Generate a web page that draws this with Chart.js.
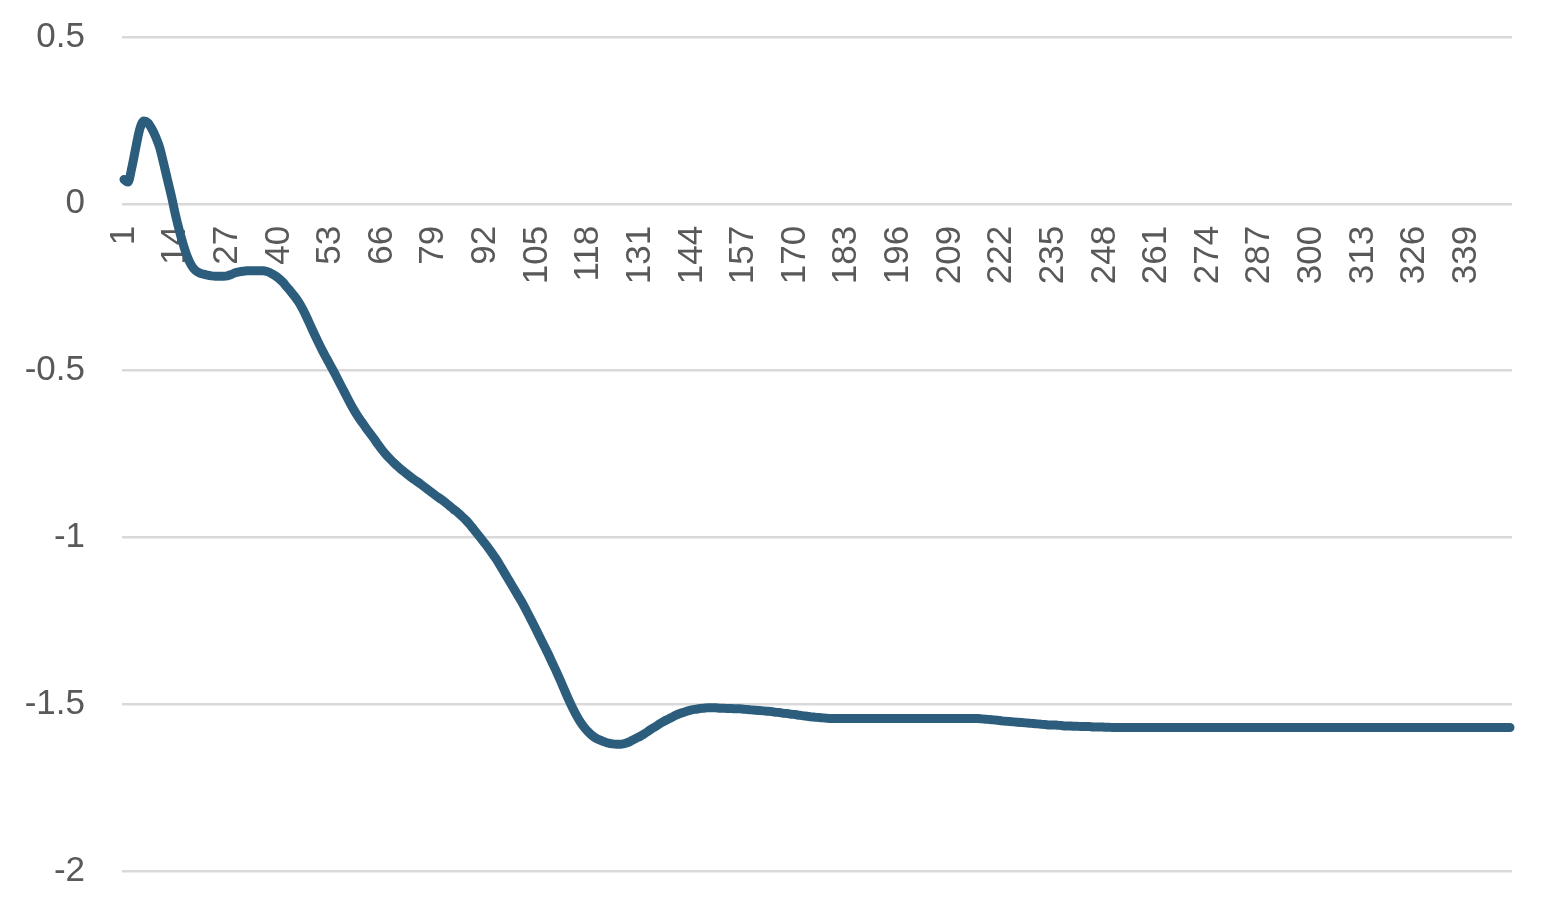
<!DOCTYPE html>
<html>
<head>
<meta charset="utf-8">
<script src="https://cdn.jsdelivr.net/npm/chart.js@4"></script>
<style>
  html, body { margin: 0; padding: 0; background: #ffffff; }
  #wrap { position: relative; width: 1558px; height: 912px; }
</style>
</head>
<body>
<div id="wrap"><canvas id="chart"></canvas></div>
<script>
// values, one per category (1..350)
const seriesValues = [
  0.073, 0.065, 0.11, 0.17, 0.225, 0.248, 0.243, 0.225, 0.2, 0.168,
  0.12, 0.07, 0.02, -0.035, -0.083, -0.125, -0.16, -0.185, -0.2, -0.207,
  -0.211, -0.214, -0.216, -0.217, -0.217, -0.217, -0.216, -0.212, -0.207, -0.204,
  -0.202, -0.201, -0.201, -0.201, -0.201, -0.201, -0.203, -0.208, -0.215, -0.224,
  -0.235, -0.249, -0.263, -0.278, -0.295, -0.316, -0.34, -0.366, -0.392, -0.417,
  -0.441, -0.463, -0.485, -0.507, -0.53, -0.553, -0.576, -0.599, -0.62, -0.639,
  -0.656, -0.673, -0.689, -0.705, -0.722, -0.738, -0.752, -0.765, -0.777, -0.788,
  -0.798, -0.808, -0.817, -0.826, -0.834, -0.843, -0.852, -0.861, -0.87, -0.879,
  -0.887, -0.896, -0.906, -0.916, -0.925, -0.936, -0.947, -0.96, -0.975, -0.99,
  -1.005, -1.02, -1.036, -1.053, -1.07, -1.09, -1.11, -1.13, -1.15, -1.17,
  -1.19, -1.212, -1.235, -1.258, -1.282, -1.306, -1.33, -1.354, -1.38, -1.405,
  -1.432, -1.46, -1.487, -1.512, -1.535, -1.555, -1.571, -1.584, -1.595, -1.603,
  -1.608, -1.613, -1.617, -1.619, -1.62, -1.62, -1.618, -1.614, -1.608, -1.602,
  -1.596, -1.589, -1.581, -1.573, -1.566, -1.558, -1.551, -1.545, -1.539, -1.533,
  -1.528, -1.524, -1.52, -1.517, -1.515, -1.513, -1.512, -1.511, -1.511, -1.511,
  -1.512, -1.512, -1.513, -1.513, -1.514, -1.514, -1.515, -1.516, -1.517, -1.518,
  -1.519, -1.52, -1.521, -1.522, -1.524, -1.525, -1.527, -1.528, -1.53, -1.531,
  -1.533, -1.535, -1.536, -1.538, -1.539, -1.54, -1.541, -1.542, -1.543, -1.543,
  -1.543, -1.543, -1.543, -1.543, -1.543, -1.543, -1.543, -1.543, -1.543, -1.543,
  -1.543, -1.543, -1.543, -1.543, -1.543, -1.543, -1.543, -1.543, -1.543, -1.543,
  -1.543, -1.543, -1.543, -1.543, -1.543, -1.543, -1.543, -1.543, -1.543, -1.543,
  -1.543, -1.543, -1.543, -1.543, -1.543, -1.543, -1.544, -1.545, -1.546, -1.547,
  -1.548, -1.55, -1.551, -1.552, -1.553, -1.554, -1.555, -1.556, -1.557, -1.558,
  -1.559, -1.56, -1.561, -1.562, -1.562, -1.563, -1.564, -1.565, -1.565, -1.566,
  -1.566, -1.567, -1.567, -1.567, -1.568, -1.568, -1.568, -1.569, -1.569, -1.57,
  -1.57, -1.57, -1.57, -1.57, -1.57, -1.57, -1.57, -1.57, -1.57, -1.57,
  -1.57, -1.57, -1.57, -1.57, -1.57, -1.57, -1.57, -1.57, -1.57, -1.57,
  -1.57, -1.57, -1.57, -1.57, -1.57, -1.57, -1.57, -1.57, -1.57, -1.57,
  -1.57, -1.57, -1.57, -1.57, -1.57, -1.57, -1.57, -1.57, -1.57, -1.57,
  -1.57, -1.57, -1.57, -1.57, -1.57, -1.57, -1.57, -1.57, -1.57, -1.57,
  -1.57, -1.57, -1.57, -1.57, -1.57, -1.57, -1.57, -1.57, -1.57, -1.57,
  -1.57, -1.57, -1.57, -1.57, -1.57, -1.57, -1.57, -1.57, -1.57, -1.57,
  -1.57, -1.57, -1.57, -1.57, -1.57, -1.57, -1.57, -1.57, -1.57, -1.57,
  -1.57, -1.57, -1.57, -1.57, -1.57, -1.57, -1.57, -1.57, -1.57, -1.57,
  -1.57, -1.57, -1.57, -1.57, -1.57, -1.57, -1.57, -1.57, -1.57, -1.57
];

// categories are just the row numbers 1..350
const categories = seriesValues.map((v, i) => String(i + 1));

// axis settings
const xLabelEvery = 13;
const yMin = -2;
const yMax = 0.5;
const yStep = 0.5;

const textColor = "#595959";
const gridColor = "#d9d9d9";
const lineColor = "#2c5d7d";
const fontFamily = "'Liberation Sans', Arial, sans-serif";

new Chart(document.getElementById("chart"), {
  type: "line",
  data: {
    labels: categories,
    datasets: [
      {
        data: seriesValues,
        borderColor: lineColor,
        borderWidth: 9,
        borderCapStyle: "round",
        borderJoinStyle: "round",
        pointRadius: 0,
        cubicInterpolationMode: "monotone",
        fill: false
      }
    ]
  },
  options: {
    responsive: true,
    maintainAspectRatio: false,
    animation: false,
    layout: {
      padding: { top: 37, right: 46, bottom: 41, left: 0 }
    },
    plugins: {
      legend: { display: false },
      tooltip: { enabled: false }
    },
    scales: {
      x: {
        type: "category",
        offset: true,
        position: { y: 0 },
        grid: { display: false, drawTicks: false },
        border: { display: false },
        ticks: {
          autoSkip: false,
          maxRotation: 90,
          minRotation: 90,
          padding: 22,
          color: textColor,
          font: { family: fontFamily, size: 35 },
          callback: function (value, index) {
            return index % xLabelEvery === 0 ? this.getLabelForValue(value) : null;
          }
        }
      },
      y: {
        min: yMin,
        max: yMax,
        afterFit: scale => { scale.width = 122; },
        // invisible tick marks keep the labels away from the plot
        grid: {
          color: gridColor,
          lineWidth: 2.5,
          drawTicks: true,
          tickLength: 37,
          tickColor: "rgba(0,0,0,0)"
        },
        border: { display: false },
        ticks: {
          stepSize: yStep,
          padding: 0,
          color: textColor,
          font: { family: fontFamily, size: 35 },
          callback: v => String(v)
        }
      }
    }
  }
});
</script>
</body>
</html>
